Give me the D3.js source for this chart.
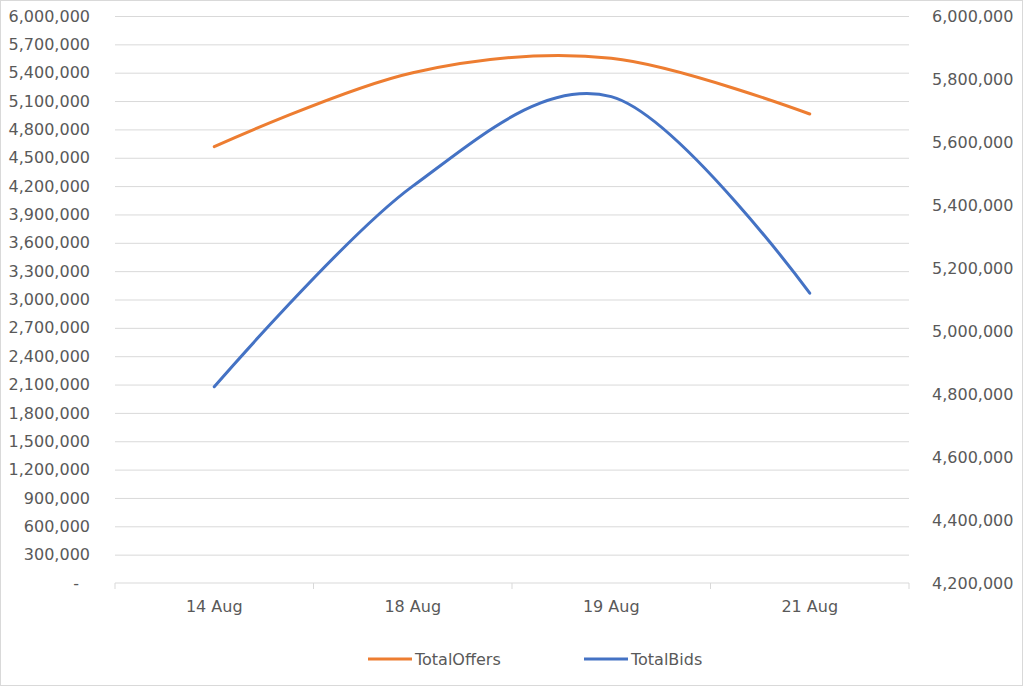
<!DOCTYPE html>
<html>
<head>
<meta charset="utf-8">
<title>TotalOffers / TotalBids</title>
<style>
  body { margin: 0; background: #fff; }
  text { font-family: "DejaVu Sans", sans-serif; font-size: 16px; fill: #595959; }
  .grid line { stroke: #d9d9d9; stroke-width: 1; }
  .line { fill: none; stroke-width: 3; stroke-linecap: round; }
</style>
</head>
<body>
<script src="https://cdn.jsdelivr.net/npm/d3@7"></script>
<script>
// data
var categories = ["14 Aug", "18 Aug", "19 Aug", "21 Aug"];
var totalOffers = [4617000, 5400000, 5553000, 4963000];   // left axis
var totalBids = [4823000, 5460000, 5744000, 5120000];     // right axis
var leftTicks = [0, 300000, 600000, 900000, 1200000, 1500000, 1800000, 2100000,
  2400000, 2700000, 3000000, 3300000, 3600000, 3900000, 4200000, 4500000,
  4800000, 5100000, 5400000, 5700000, 6000000];
var rightTicks = [4200000, 4400000, 4600000, 4800000, 5000000, 5200000,
  5400000, 5600000, 5800000, 6000000];

var W = 1024, H = 687;
var margin = {top: 16, right: 115, bottom: 104, left: 115};
var width = 909 - margin.left, height = 583 - margin.top;

var svg = d3.select("body").append("svg")
    .attr("width", W)
    .attr("height", H);

// chart border
svg.append("rect")
    .attr("x", 0.5).attr("y", 0.5)
    .attr("width", W - 2).attr("height", H - 2)
    .attr("fill", "#fff")
    .attr("stroke", "#d9d9d9");

var g = svg.append("g")
    .attr("transform", "translate(" + margin.left + "," + margin.top + ")");

var x = d3.scaleBand().domain(categories).range([0, width]);
var yL = d3.scaleLinear().domain([0, 6000000]).range([height, 0]);
var yR = d3.scaleLinear().domain([4200000, 6000000]).range([height, 0]);
var fmt = d3.format(",");

// GRID
g.append("g")
    .attr("class", "grid")
    .call(d3.axisLeft(yL).tickValues(leftTicks.slice(1)).tickSize(-width).tickFormat(""))
    .call(function (s) { s.select(".domain").remove(); });

// LEFT AXIS labels
var la = g.append("g")
    .call(d3.axisLeft(yL).tickValues(leftTicks).tickSize(0).tickPadding(25)
      .tickFormat(function (d) { return d === 0 ? "-" : fmt(d); }));
la.select(".domain").remove();
la.selectAll("text").attr("font-family", null).attr("font-size", null)
    .attr("dx", function (d) { return d === 0 ? -11 : 0; });

// RIGHT AXIS labels
var ra = g.append("g")
    .attr("transform", "translate(" + width + ",0)")
    .call(d3.axisRight(yR).tickValues(rightTicks).tickSize(0).tickPadding(23).tickFormat(fmt));
ra.select(".domain").remove();
ra.selectAll("text").attr("font-family", null).attr("font-size", null);

// X AXIS
var xa = g.append("g").attr("transform", "translate(0," + height + ")");
xa.append("line")
    .attr("x1", 0).attr("x2", width)
    .attr("stroke", "#d9d9d9");
xa.selectAll(".tk")
    .data(categories.concat([null]))
    .enter().append("line")
    .attr("x1", function (d, i) { return i * x.step(); })
    .attr("x2", function (d, i) { return i * x.step(); })
    .attr("y2", 6)
    .attr("stroke", "#d9d9d9");
xa.selectAll(".lbl")
    .data(categories)
    .enter().append("text")
    .attr("x", function (d) { return x(d) + x.bandwidth() / 2; })
    .attr("y", 29)
    .attr("text-anchor", "middle")
    .text(function (d) { return d; });

// LINES
var cx = function (i) { return x(categories[i]) + x.bandwidth() / 2; };
var curve = d3.curveCardinal.tension(0);
var lineL = d3.line().curve(curve).x(function (d, i) { return cx(i); }).y(function (d) { return yL(d); });
var lineR = d3.line().curve(curve).x(function (d, i) { return cx(i); }).y(function (d) { return yR(d); });

g.append("path").datum(totalOffers).attr("class", "line")
    .attr("stroke", "#ed7d31").attr("d", lineL);
g.append("path").datum(totalBids).attr("class", "line")
    .attr("stroke", "#4472c4").attr("d", lineR);

// LEGEND
var legend = [
  {name: "TotalOffers", color: "#ed7d31", x: 368},
  {name: "TotalBids", color: "#4472c4", x: 584}
];
legend.forEach(function (l) {
  svg.append("line")
      .attr("x1", l.x).attr("x2", l.x + 44)
      .attr("y1", 659).attr("y2", 659)
      .attr("stroke", l.color).attr("stroke-width", 3);
  svg.append("text")
      .attr("x", l.x + 47).attr("y", 659).attr("dy", "0.35em")
      .text(l.name);
});
</script>
</body>
</html>
